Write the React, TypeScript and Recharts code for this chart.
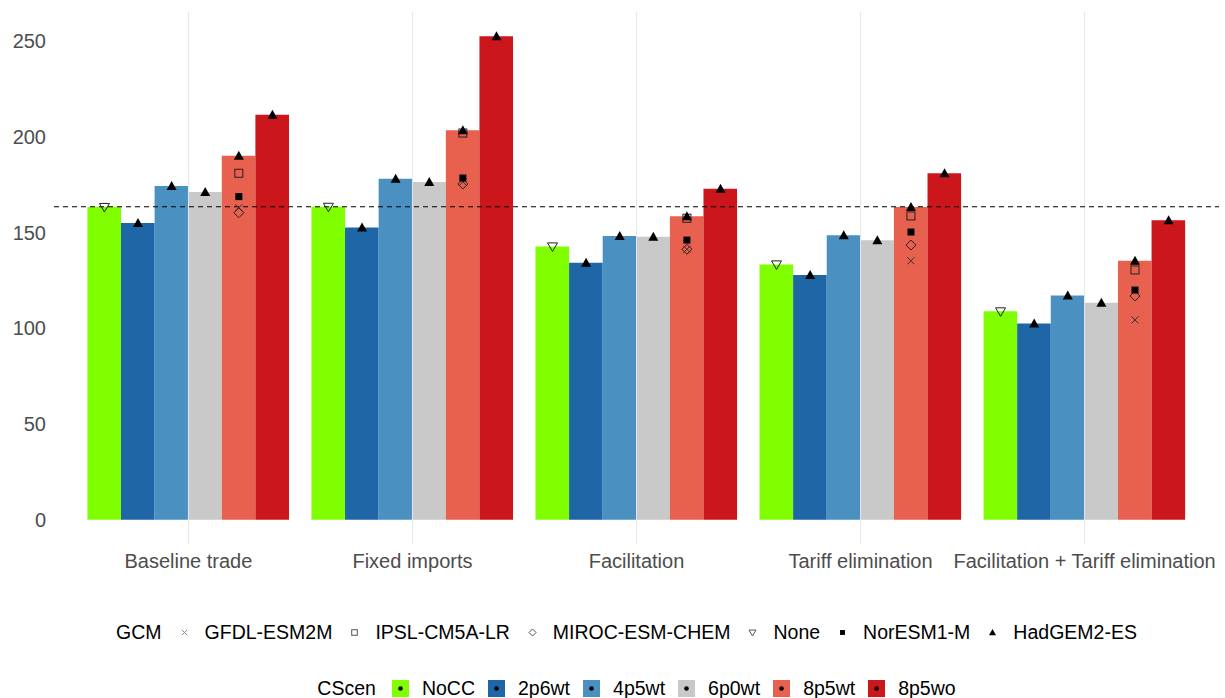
import React from 'react';
import { ComposedChart, Bar, Scatter, XAxis, YAxis, ReferenceLine } from 'recharts';

// categories on the x axis
const categories = [
  'Baseline trade',
  'Fixed imports',
  'Facilitation',
  'Tariff elimination',
  'Facilitation + Tariff elimination',
];

// bar heights per climate scenario
const noCC = [163.4, 163.5, 142.8, 133.4, 108.9];
const s2p6wt = [155.0, 152.7, 134.3, 127.9, 102.6];
const s4p5wt = [174.3, 178.1, 148.2, 148.6, 117.2];
const s6p0wt = [171.2, 176.4, 147.9, 146.0, 113.4];
const s8p5wt = [190.1, 203.5, 158.5, 163.4, 135.3];
const s8p5wo = [211.5, 252.6, 172.9, 181.0, 156.4];

// other GCMs, only run for 8p5wt
const gfdl8p5wt = [163.0, 176.5, 141.3, 135.3, 104.4];
const ipsl8p5wt = [181.0, 202.0, 157.5, 158.7, 130.5];
const miroc8p5wt = [160.4, 175.4, 141.3, 143.5, 116.9];
const noresm8p5wt = [168.8, 178.5, 146.1, 150.3, 120.0];

const baselineRef = 163.5;
const yTicks = [0, 50, 100, 150, 200, 250];
const groupTicks = [0, 1, 2, 3, 4];

const scenarios = [
  { key: 'NoCC', values: noCC, color: '#7fff00' },
  { key: '2p6wt', values: s2p6wt, color: '#1f66a7' },
  { key: '4p5wt', values: s4p5wt, color: '#4a91c2' },
  { key: '6p0wt', values: s6p0wt, color: '#c9c9c9' },
  { key: '8p5wt', values: s8p5wt, color: '#e8614f' },
  { key: '8p5wo', values: s8p5wo, color: '#cb171c' },
];

const barRows = categories.map((name, i) => {
  const row: Record<string, any> = { name };
  scenarios.forEach((s) => (row[s.key] = s.values[i]));
  return row;
});

// 0.9 of a category shared by six bars
const BAR_STEP = 0.15;
const pointsFor = (values: number[], scenIdx: number) =>
  values.map((y, i) => ({ x: i + (scenIdx - 2.5) * BAR_STEP, y }));

type Shape = (cx: number, cy: number, k?: number, color?: string) => React.ReactElement;

const shapes: Record<string, Shape> = {
  cross: (cx, cy, k = 1, c = '#333') => (
    <path d={`M${cx - 3.5 * k},${cy - 3.5 * k}L${cx + 3.5 * k},${cy + 3.5 * k}M${cx - 3.5 * k},${cy + 3.5 * k}L${cx + 3.5 * k},${cy - 3.5 * k}`} stroke={c} strokeWidth={1} fill="none" />
  ),
  openSquare: (cx, cy, k = 1, c = '#222') => (
    <rect x={cx - 4 * k} y={cy - 4 * k} width={8 * k} height={8 * k} fill="none" stroke={c} strokeWidth={1} />
  ),
  diamond: (cx, cy, k = 1, c = '#222') => (
    <path d={`M${cx},${cy - 5 * k}L${cx + 5 * k},${cy}L${cx},${cy + 5 * k}L${cx - 5 * k},${cy}Z`} fill="none" stroke={c} strokeWidth={1} />
  ),
  downTriangle: (cx, cy, k = 1, c = '#222') => (
    <path d={`M${cx - 5 * k},${cy - 3.5 * k}L${cx + 5 * k},${cy - 3.5 * k}L${cx},${cy + 5 * k}Z`} fill="none" stroke={c} strokeWidth={1} />
  ),
  filledSquare: (cx, cy, k = 1, c = '#000') => (
    <rect x={cx - 3.5 * k} y={cy - 3.5 * k} width={7 * k} height={7 * k} fill={c} />
  ),
  triangle: (cx, cy, k = 1, c = '#000') => (
    <path d={`M${cx},${cy - 5 * k}L${cx + 5 * k},${cy + 4 * k}L${cx - 5 * k},${cy + 4 * k}Z`} fill={c} />
  ),
};

const gcms = [
  { name: 'GFDL-ESM2M', shape: 'cross', points: pointsFor(gfdl8p5wt, 4) },
  { name: 'IPSL-CM5A-LR', shape: 'openSquare', points: pointsFor(ipsl8p5wt, 4) },
  { name: 'MIROC-ESM-CHEM', shape: 'diamond', points: pointsFor(miroc8p5wt, 4) },
  { name: 'None', shape: 'downTriangle', points: pointsFor(noCC, 0) },
  { name: 'NorESM1-M', shape: 'filledSquare', points: pointsFor(noresm8p5wt, 4) },
  {
    name: 'HadGEM2-ES',
    shape: 'triangle',
    points: [1, 2, 3, 4, 5].flatMap((j) => pointsFor(scenarios[j].values, j)),
  },
];

const legendColor = (shape: string) =>
  shape === 'cross' ? '#888' : shape === 'openSquare' || shape === 'diamond' || shape === 'downTriangle' ? '#555' : '#000';

const FONT = '"Liberation Sans", Arial, sans-serif';
const legendRow: React.CSSProperties = {
  position: 'absolute',
  height: 24,
  display: 'flex',
  justifyContent: 'center',
  alignItems: 'center',
  fontSize: 19.5,
  color: '#000',
  whiteSpace: 'nowrap',
};

export default function App() {
  return (
    <div style={{ position: 'absolute', left: 0, top: 0, width: 1225, height: 698, background: '#fff', fontFamily: FONT }}>
      <ComposedChart
        width={1225}
        height={590}
        data={barRows}
        margin={{ top: 12, right: 6, left: 0, bottom: 0 }}
        barGap={0}
        barSize={33.6}
      >
        <XAxis
          xAxisId="cat"
          dataKey="name"
          padding={{ left: 22.4, right: 22.4 }}
          axisLine={false}
          tickLine={false}
          tickMargin={4}
          height={46}
          interval={0}
          tick={{ fontSize: 20, fill: '#4d4d4d', fontFamily: FONT }}
        />
        <XAxis xAxisId="num" dataKey="x" type="number" domain={[-0.6, 4.6]} ticks={groupTicks} allowDataOverflow hide />
        <YAxis
          domain={[-12.6, 265.2]}
          ticks={yTicks}
          allowDataOverflow
          axisLine={false}
          tickLine={false}
          width={54}
          tick={{ fontSize: 20, fill: '#4d4d4d', fontFamily: FONT }}
        />
        {/* vertical grid at group centres */}
        {groupTicks.map((t) => (
          <ReferenceLine key={`g${t}`} xAxisId="num" x={t} stroke="#e6e6e6" strokeWidth={1} />
        ))}
        {scenarios.map((s) => (
          <Bar key={s.key} xAxisId="cat" dataKey={s.key} fill={s.color} isAnimationActive={false} />
        ))}
        <ReferenceLine xAxisId="num" y={baselineRef} stroke="#000" strokeDasharray="5 4" strokeWidth={1.2} />
        {gcms.map((g) => (
          <Scatter
            key={g.name}
            name={g.name}
            xAxisId="num"
            data={g.points}
            dataKey="y"
            isAnimationActive={false}
            shape={(p: any) => shapes[g.shape](p.cx, p.cy)}
          />
        ))}
      </ComposedChart>

      <div style={{ ...legendRow, top: 620, left: 44, width: 1165 }}>
        <span style={{ marginRight: 14 }}>GCM</span>
        {gcms.map((g, i) => (
          <React.Fragment key={g.name}>
            <svg width={17} height={17} style={{ marginRight: 12 }}>
              {shapes[g.shape](8.5, 8.5, 0.7, legendColor(g.shape))}
            </svg>
            <span style={{ marginRight: i < gcms.length - 1 ? 14 : 0 }}>{g.name}</span>
          </React.Fragment>
        ))}
      </div>

      <div style={{ ...legendRow, top: 676, left: 54, width: 1165 }}>
        <span style={{ marginRight: 16 }}>CScen</span>
        {scenarios.map((s, i) => (
          <React.Fragment key={s.key}>
            <svg width={17} height={17} style={{ marginRight: 13 }}>
              <rect x={0} y={0} width={17} height={17} fill={s.color} />
              <circle cx={8.5} cy={8.5} r={2.3} fill="#000" />
            </svg>
            <span style={{ marginRight: i < scenarios.length - 1 ? 13 : 0 }}>{s.key}</span>
          </React.Fragment>
        ))}
      </div>
    </div>
  );
}
